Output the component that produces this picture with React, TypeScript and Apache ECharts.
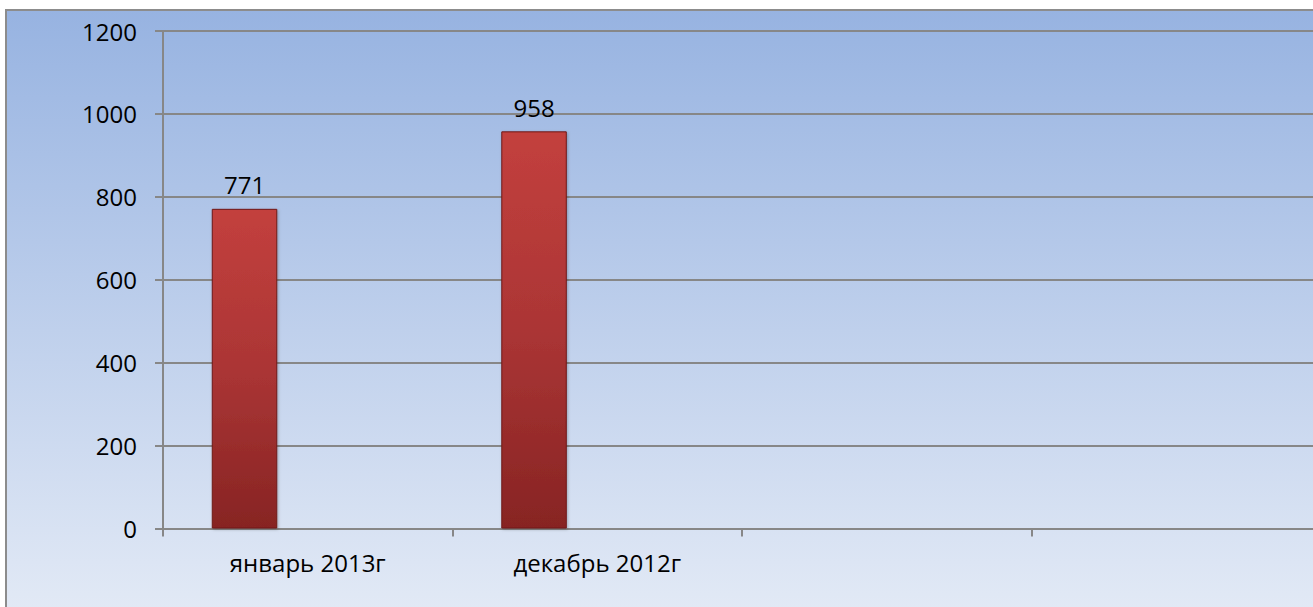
import React, { useEffect, useRef } from "react";
import * as echarts from "echarts";

const categories = ["январь 2013г", "декабрь 2012г", "", ""];
const seriesMain = [771, 958, null, null];
const seriesEmpty1 = [null, null, null, null];
const seriesEmpty2 = [null, null, null, null];
const yTicks = { min: 0, max: 1200, interval: 200 };

const FONT = "'Open Sans', 'Noto Sans', sans-serif";
const AXIS_COLOR = "#878787";

export default function App() {
  const ref = useRef<HTMLDivElement>(null);
  useEffect(() => {
    if (!ref.current) return;
    const chart = echarts.init(ref.current, undefined, { renderer: "svg" });
    const barStyle = {
      color: new echarts.graphic.LinearGradient(0, 0, 0, 1, [
        { offset: 0, color: "#c3403d" },
        { offset: 0.5, color: "#ab3535" },
        { offset: 1, color: "#872423" },
      ]),
      borderColor: "#6f1a18",
      borderWidth: 1,
      shadowColor: "rgba(0,0,0,0.25)",
      shadowBlur: 3,
      shadowOffsetX: 1,
      shadowOffsetY: 1,
    };
    chart.setOption({
      animation: false,
      graphic: [
        {
          type: "rect",
          z: -10,
          silent: true,
          shape: { x: 6, y: 10, width: 1400, height: 640 },
          style: {
            fill: new echarts.graphic.LinearGradient(0, 0, 0, 1, [
              { offset: 0, color: "#97b3e1" },
              { offset: 1, color: "#e7edf7" },
            ]),
            stroke: "#8c8c8c",
            lineWidth: 2,
          },
        },
      ],
      grid: { left: 163, top: 31, width: 1158, height: 497.5, containLabel: false },
      xAxis: {
        type: "category",
        data: categories,
        axisLine: { show: true, lineStyle: { color: AXIS_COLOR, width: 2 } },
        axisTick: { show: true, length: 8, alignWithLabel: false, interval: 0, lineStyle: { color: AXIS_COLOR, width: 2 } },
        axisLabel: { interval: 0, margin: 22, color: "#000", fontSize: 24, fontFamily: FONT },
        splitLine: { show: false },
      },
      yAxis: {
        type: "value",
        min: yTicks.min,
        max: yTicks.max,
        interval: yTicks.interval,
        axisLine: { show: true, lineStyle: { color: AXIS_COLOR, width: 2 } },
        axisTick: { show: true, length: 8, lineStyle: { color: AXIS_COLOR, width: 2 } },
        axisLabel: {
          margin: 26,
          color: "#000",
          fontSize: 24,
          fontFamily: FONT,
          formatter: (v: number) => String(v),
        },
        splitLine: { show: true, lineStyle: { color: AXIS_COLOR, width: 2 } },
      },
      series: [
        {
          type: "bar",
          data: seriesMain,
          barWidth: 65.5,
          barGap: "-3.5%",
          itemStyle: barStyle,
          label: {
            show: true,
            position: "top",
            distance: 12,
            color: "#000",
            fontSize: 24,
            fontFamily: FONT,
          },
        },
        { type: "bar", data: seriesEmpty1, barWidth: 65.5, barGap: "-3.5%" },
        { type: "bar", data: seriesEmpty2, barWidth: 65.5, barGap: "-3.5%" },
      ],
    });
    return () => chart.dispose();
  }, []);
  return (
    <div style={{ position: "absolute", left: 0, top: 0, width: 1313, height: 607, overflow: "hidden" }}>
      <div ref={ref} style={{ width: 1360, height: 640 }} />
    </div>
  );
}
